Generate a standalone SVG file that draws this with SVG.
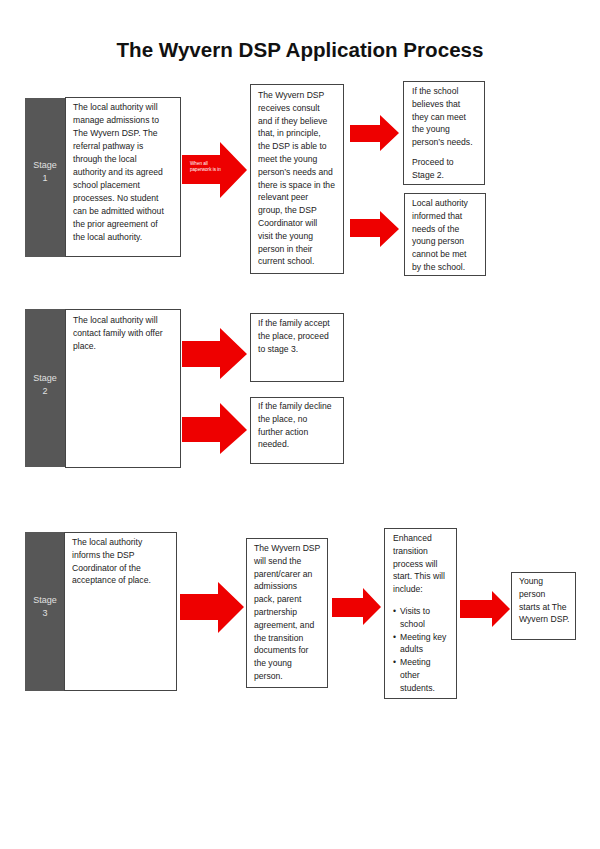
<svg xmlns="http://www.w3.org/2000/svg" width="600" height="849" viewBox="0 0 600 849">
<defs>
<style>
.bar{fill:#575757;}
.box{fill:#fff;stroke:#444;stroke-width:1;}
.arr{fill:#ee0000;}
.t{font-family:"Liberation Sans",Arial,sans-serif;font-size:8.6px;fill:#222;}
.st{font-family:"Liberation Sans",Arial,sans-serif;font-size:9px;fill:#e0e0e0;text-anchor:middle;}
.small{font-family:"Liberation Sans",Arial,sans-serif;font-size:4.6px;fill:#fff;}
.title{font-family:"Liberation Sans",Arial,sans-serif;font-size:20px;font-weight:bold;fill:#111;text-anchor:middle;}
</style>
</defs>
<rect width="600" height="849" fill="#fff"/>
<text class="title" x="300" y="57" textLength="367" lengthAdjust="spacingAndGlyphs">The Wyvern DSP Application Process</text>

<g id="connectors">
<polygon class="arr" points="182,155 220,155 220,142 247,170 220,198 220,184 182,184"/>
<polygon class="arr" points="350,125 380,125 380,115 399,133 380,151 380,142 350,142"/>
<polygon class="arr" points="350,219 380,219 380,211 399,229 380,247 380,237 350,237"/>
<polygon class="arr" points="182,341 220,341 220,328 247,354 220,379 220,367 182,367"/>
<polygon class="arr" points="182,417 220,417 220,403 247,430 220,454 220,442 182,442"/>
<polygon class="arr" points="180,594 218,594 218,582 244,607 218,633 218,620 180,620"/>
<polygon class="arr" points="332,598 363,598 363,588 381,607 363,625 363,617 332,617"/>
<polygon class="arr" points="460,600 492,600 492,591 510,609 492,627 492,618 460,618"/>
<text class="small" x="190" y="165">When all</text>
<text class="small" x="190" y="171">paperwork is in</text>
</g>

<g id="stage1">
<rect class="bar" x="25" y="98" width="41" height="159"/>
<text class="st" x="45" y="168">Stage</text>
<text class="st" x="45" y="181">1</text>
<rect class="box" x="65.5" y="97.5" width="115" height="159"/>
<text class="t" x="73" y="110">
<tspan x="73" dy="0">The local authority will</tspan>
<tspan x="73" dy="13">manage admissions to</tspan>
<tspan x="73" dy="13">The Wyvern DSP.  The</tspan>
<tspan x="73" dy="13">referral pathway is</tspan>
<tspan x="73" dy="13">through the local</tspan>
<tspan x="73" dy="13">authority and its agreed</tspan>
<tspan x="73" dy="13">school placement</tspan>
<tspan x="73" dy="13">processes.  No student</tspan>
<tspan x="73" dy="13">can be admitted without</tspan>
<tspan x="73" dy="13">the prior agreement of</tspan>
<tspan x="73" dy="13">the local authority.</tspan>
</text>
</g>

<g id="consult">
<rect class="box" x="250.5" y="84.5" width="93" height="189"/>
<text class="t" x="258" y="98">
<tspan x="258" dy="0">The Wyvern DSP</tspan>
<tspan x="258" dy="12.8">receives consult</tspan>
<tspan x="258" dy="12.8">and if they believe</tspan>
<tspan x="258" dy="12.8">that, in principle,</tspan>
<tspan x="258" dy="12.8">the DSP is able to</tspan>
<tspan x="258" dy="12.8">meet the young</tspan>
<tspan x="258" dy="12.8">person’s needs and</tspan>
<tspan x="258" dy="12.8">there is space in the</tspan>
<tspan x="258" dy="12.8">relevant peer</tspan>
<tspan x="258" dy="12.8">group, the DSP</tspan>
<tspan x="258" dy="12.8">Coordinator will</tspan>
<tspan x="258" dy="12.8">visit the young</tspan>
<tspan x="258" dy="12.8">person in their</tspan>
<tspan x="258" dy="12.8">current school.</tspan>
</text>
</g>

<g id="school-can">
<rect class="box" x="403.5" y="81.5" width="81" height="103"/>
<text class="t" x="412" y="94">
<tspan x="412" dy="0">If the school</tspan>
<tspan x="412" dy="12.8">believes that</tspan>
<tspan x="412" dy="12.8">they can meet</tspan>
<tspan x="412" dy="12.8">the young</tspan>
<tspan x="412" dy="12.8">person’s needs.</tspan>
<tspan x="412" dy="20">Proceed to</tspan>
<tspan x="412" dy="12.8">Stage 2.</tspan>
</text>
</g>

<g id="school-cannot">
<rect class="box" x="404.5" y="193.5" width="81" height="82"/>
<text class="t" x="412" y="206">
<tspan x="412" dy="0">Local authority</tspan>
<tspan x="412" dy="12.8">informed that</tspan>
<tspan x="412" dy="12.8">needs of the</tspan>
<tspan x="412" dy="12.8">young person</tspan>
<tspan x="412" dy="12.8">cannot be met</tspan>
<tspan x="412" dy="12.8">by the school.</tspan>
</text>
</g>

<g id="stage2">
<rect class="bar" x="25" y="309" width="41" height="158"/>
<text class="st" x="45" y="381">Stage</text>
<text class="st" x="45" y="394">2</text>
<rect class="box" x="65.5" y="309.5" width="115" height="158"/>
<text class="t" x="73" y="323">
<tspan x="73" dy="0">The local authority will</tspan>
<tspan x="73" dy="12.8">contact family with offer</tspan>
<tspan x="73" dy="12.8">place.</tspan>
</text>
</g>

<g id="accept">
<rect class="box" x="250.5" y="313.5" width="93" height="68"/>
<text class="t" x="258" y="326">
<tspan x="258" dy="0">If the family accept</tspan>
<tspan x="258" dy="12.8">the place, proceed</tspan>
<tspan x="258" dy="12.8">to stage 3.</tspan>
</text>
</g>

<g id="decline">
<rect class="box" x="250.5" y="397.5" width="93" height="66"/>
<text class="t" x="258" y="409">
<tspan x="258" dy="0">If the family decline</tspan>
<tspan x="258" dy="12.8">the place, no</tspan>
<tspan x="258" dy="12.8">further action</tspan>
<tspan x="258" dy="12.8">needed.</tspan>
</text>
</g>

<g id="stage3">
<rect class="bar" x="25" y="532" width="40" height="159"/>
<text class="st" x="45" y="603">Stage</text>
<text class="st" x="45" y="616">3</text>
<rect class="box" x="64.5" y="532.5" width="112" height="158"/>
<text class="t" x="72" y="545">
<tspan x="72" dy="0">The local authority</tspan>
<tspan x="72" dy="12.8">informs the DSP</tspan>
<tspan x="72" dy="12.8">Coordinator of the</tspan>
<tspan x="72" dy="12.8">acceptance of place.</tspan>
</text>
</g>

<g id="pack">
<rect class="box" x="246.5" y="538.5" width="81" height="149"/>
<text class="t" x="254" y="551">
<tspan x="254" dy="0">The Wyvern DSP</tspan>
<tspan x="254" dy="12.8">will send the</tspan>
<tspan x="254" dy="12.8">parent/carer an</tspan>
<tspan x="254" dy="12.8">admissions</tspan>
<tspan x="254" dy="12.8">pack, parent</tspan>
<tspan x="254" dy="12.8">partnership</tspan>
<tspan x="254" dy="12.8">agreement, and</tspan>
<tspan x="254" dy="12.8">the transition</tspan>
<tspan x="254" dy="12.8">documents for</tspan>
<tspan x="254" dy="12.8">the young</tspan>
<tspan x="254" dy="12.8">person.</tspan>
</text>
</g>

<g id="transition">
<rect class="box" x="384.5" y="528.5" width="72" height="170"/>
<text class="t" x="393" y="541">
<tspan x="393" dy="0">Enhanced</tspan>
<tspan x="393" dy="12.8">transition</tspan>
<tspan x="393" dy="12.8">process will</tspan>
<tspan x="393" dy="12.8">start.  This will</tspan>
<tspan x="393" dy="12.8">include:</tspan>
</text>
<text class="t" x="393" y="614">
<tspan x="393" dy="0">•</tspan><tspan x="400" dy="0">Visits to</tspan>
<tspan x="400" dy="12.8">school</tspan>
<tspan x="393" dy="12.8">•</tspan><tspan x="400" dy="0">Meeting key</tspan>
<tspan x="400" dy="12.8">adults</tspan>
<tspan x="393" dy="12.8">•</tspan><tspan x="400" dy="0">Meeting</tspan>
<tspan x="400" dy="12.8">other</tspan>
<tspan x="400" dy="12.8">students.</tspan>
</text>
</g>

<g id="starts">
<rect class="box" x="511.5" y="572.5" width="64" height="67"/>
<text class="t" x="519" y="584">
<tspan x="519" dy="0">Young</tspan>
<tspan x="519" dy="12.8">person</tspan>
<tspan x="519" dy="12.8">starts at The</tspan>
<tspan x="519" dy="12.8">Wyvern DSP.</tspan>
</text>
</g>
</svg>
